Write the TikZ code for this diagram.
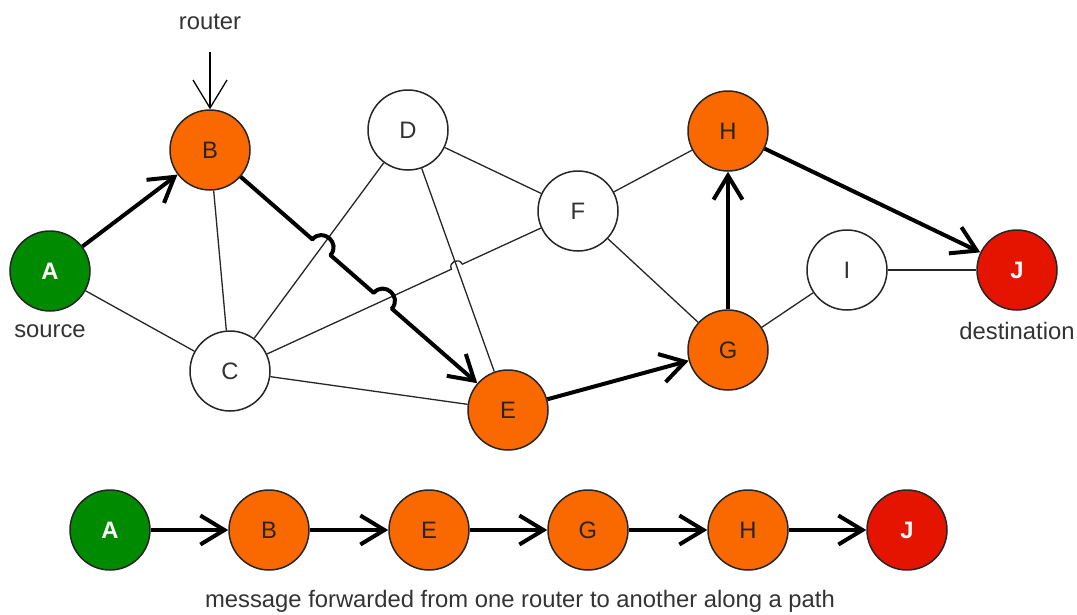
\documentclass[tikz,border=0pt]{standalone}
\usepackage{fontspec}
\setmainfont{Liberation Sans}
\usetikzlibrary{
  arrows.meta,%
  calc,%
  % for the line hops
  intersections
}
\definecolor{srcgreen}{RGB}{0,138,0}
\definecolor{hoporange}{RGB}{250,104,0}
\definecolor{dstred}{RGB}{229,20,0}
\definecolor{labelgray}{RGB}{51,51,51}
\tikzset{>={Straight Barb[length=24pt, width=29pt]}}
\tikzset{font=\fontsize{23.8}{28}\selectfont, text=labelgray}
\tikzset{router/.style={circle, draw=black!85, fill=white, line width=1.5pt,
    minimum size=80pt, inner sep=0pt},
  source/.style={router, fill=srcgreen, text=white, font=\fontsize{23.8}{28}\selectfont\bfseries},
  relay/.style={router, fill=hoporange, text=black!85},
  target/.style={router, fill=dstred, text=white, font=\fontsize{23.8}{28}\selectfont\bfseries},
  link/.style={line width=1.3pt, draw=black!85},
  route/.style={->, line width=4pt, line join=round},
  hop/.style={bend left=90, looseness=1.7}}

\begin{document}
\begin{tikzpicture}[x=1pt, y=-1pt]
  \useasboundingbox (0,0) rectangle (1077,614);
  % network
  \node[source] (A) at (50,271) {A};
  \node[relay] (B) at (210,150) {B};
  \node[router] (C) at (230,371) {C};
  \node[router] (D) at (408,130) {D};
  \node[relay] (E) at (508,410) {E};
  \node[router] (F) at (578,211) {F};
  \node[relay] (G) at (728,350) {G};
  \node[relay] (H) at (728,131) {H};
  \node[router] (I) at (847,270) {I};
  \node[target] (J) at (1017,270) {J};
  \node (rlabel) at (210,22) {router};
  \node (slabel) at (50,331) {source};
  \node (dlabel) at (1017,331) {destination};
  \coordinate (rtail) at (210,52);
  \draw[line width=1.3pt, -{Straight Barb[length=28pt, width=34pt]}] (rtail) -- (B); %
  % crossings
  \path[name path=cd] (C) -- (D);
  \path[name path=cf] (C) -- (F);
  \path[name path=de] (D) -- (E);
  \path[name path=be] (B) -- (E);
  \path[name intersections={of=be and cd, by=x1}];
  \path[name intersections={of=be and cf, by=x2}];
  \path[name intersections={of=cf and de, by=x3}];
  % links
  \draw[link] (A) -- (C);
  \draw[link] (B) -- (C);
  \draw[link] (C) -- (D);
  \draw[link] (C) -- ($(x3)!6pt!(C)$) to[hop] ($(x3)!6pt!(F)$) -- (F);
  \draw[link] (C) -- (E);
  \draw[link] (D) -- (F);
  \draw[link] (D) -- (E);
  \draw[link] (F) -- (H);
  \draw[link] (F) -- (G);
  \draw[link] (G) -- (I);
  \draw[link] (I) -- (J);
  % path of the message
  \draw[route] (A) -- (B);
  \draw[route] (B) -- ($(x1)!12pt!(B)$) to[hop] ($(x1)!12pt!(E)$) -- ($(x2)!12pt!(B)$) to[hop] ($(x2)!12pt!(E)$) -- (E); %
  \draw[route] (E) -- (G);
  \draw[route] (G) -- (H);
  \draw[route] (H) -- (J);
  % forwarding row
  \node[source] (pA) at (110,530) {A};
  \node[relay] (pB) at (269,530) {B};
  \node[relay] (pE) at (429,530) {E};
  \node[relay] (pG) at (588,530) {G};
  \node[relay] (pH) at (748,530) {H};
  \node[target] (pJ) at (907,530) {J};
  \foreach \u/\v in {pA/pB, pB/pE, pE/pG, pG/pH, pH/pJ}
    \draw[route] (\u) -- (\v);
  \node (caption) at (520,601) {message forwarded from one router to another along a path};
\end{tikzpicture}
\end{document}
